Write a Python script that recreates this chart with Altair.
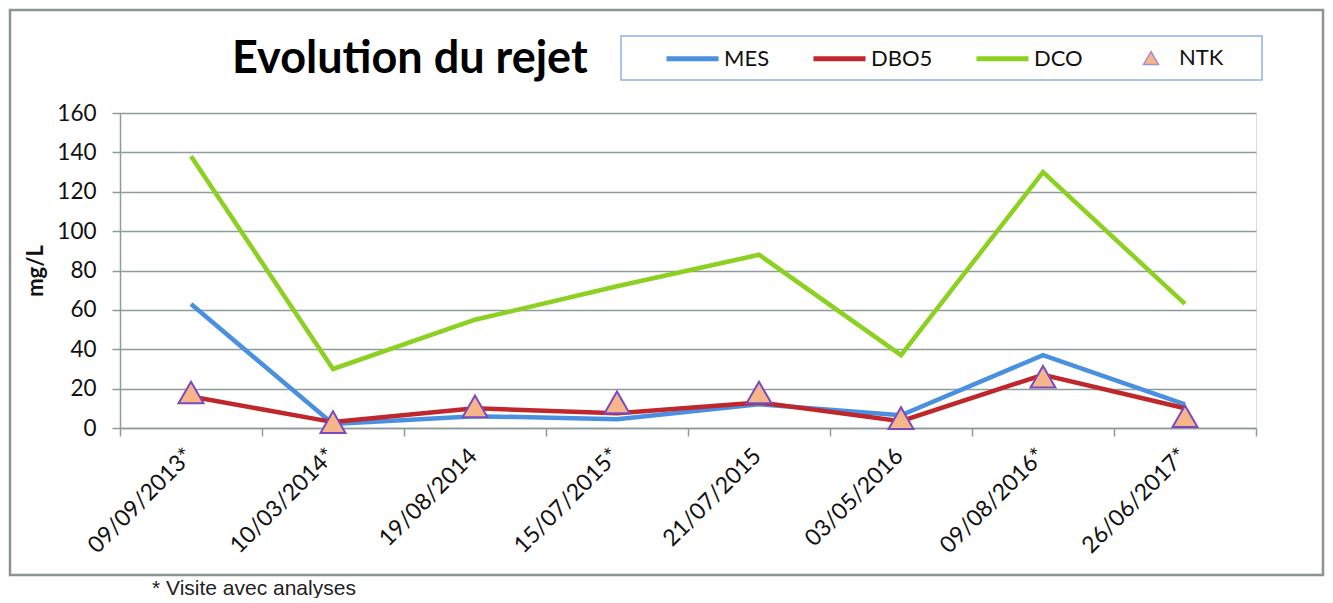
import altair as alt
import pandas as pd

dates = ["09/09/2013*", "10/03/2014*", "19/08/2014", "15/07/2015*",
         "21/07/2015", "03/05/2016", "09/08/2016*", "26/06/2017*"]
mes = [63, 2, 6, 4.5, 12, 6.5, 37, 12]
dbo5 = [16, 3, 10, 7.5, 13, 3.5, 27, 10]
dco = [138, 30, 55, 72, 88, 37, 130, 63]
ntk = [18, 3, 11, 13, 18, 5, 26, 6]
y_ticks = [0, 20, 40, 60, 80, 100, 120, 140, 160]

series_names = ["MES", "DBO5", "DCO"]
series_colors = ["#4a90e0", "#c0272d", "#8cd121"]

rows = []
for name, vals in zip(series_names, [mes, dbo5, dco]):
    for d, v in zip(dates, vals):
        rows.append({"date": d, "value": v, "series": name})
df_lines = pd.DataFrame(rows)
df_ntk = pd.DataFrame({"date": dates, "value": ntk, "series": ["NTK"] * len(dates)})
one = pd.DataFrame({"a": [0]})

FONT = "Lato"

x_enc = alt.X(
    "date:N", sort=dates, bandPosition=0.5,
    scale=alt.Scale(type="band", paddingInner=0, paddingOuter=0),
    axis=alt.Axis(title=None, tickBand="extent", grid=False, ticks=True, tickSize=8,
                  tickColor="#8f9b9b", tickWidth=1.5, domainColor="#8f9b9b", domainWidth=1.5,
                  labelAngle=-45, labelAlign="right", labelBaseline="middle",
                  labelFont=FONT, labelFontSize=23, labelColor="#111111",
                  labelPadding=16, labelOffset=-2, labelOverlap=False),
)
y_enc = alt.Y(
    "value:Q", scale=alt.Scale(domain=[0, 160], nice=False, zero=True),
    axis=alt.Axis(values=y_ticks, title="mg/L", titleFont=FONT, titleFontWeight="bold",
                  titleFontSize=22, titleColor="#111111", titlePadding=9,
                  grid=True, gridColor="#8f9b9b", gridWidth=1.5,
                  tickSize=8, tickColor="#8f9b9b", tickWidth=1.5,
                  domainColor="#8f9b9b", domainWidth=1.5,
                  labelFont=FONT, labelFontSize=22.5, labelColor="#111111", labelPadding=16),
)

border = alt.Chart(one).mark_rect(fill=None, stroke="#8a9494", strokeWidth=2.5).encode(
    x=alt.value(-110), x2=alt.value(1203), y=alt.value(-103), y2=alt.value(462))

legend_box = alt.Chart(one).mark_rect(fill="white", stroke="#8db3e2", strokeWidth=1.5).encode(
    x=alt.value(501), x2=alt.value(1142), y=alt.value(-77), y2=alt.value(-33))

lines = alt.Chart(df_lines).mark_line(strokeWidth=4.5).encode(
    x=x_enc, y=y_enc,
    color=alt.Color("series:N", sort=series_names,
                    scale=alt.Scale(domain=series_names, range=series_colors),
                    legend=alt.Legend(orient="none", legendX=544, legendY=-83, direction="horizontal",
                                      title=None, symbolType="stroke", symbolSize=2704,
                                      symbolStrokeWidth=5, labelFont=FONT, labelFontSize=22,
                                      labelColor="#111111", labelOffset=3, columnPadding=33,
                                      padding=0)),
    order=alt.Order("series:N"),
)

points = alt.Chart(df_ntk).mark_point(shape="triangle-up", filled=True, size=620,
                                      stroke="#7a4bbf", strokeWidth=2, opacity=1).encode(
    x=x_enc, y=y_enc,
    fill=alt.Fill("series:N", scale=alt.Scale(domain=["NTK"], range=["#f7b68a"]),
                  legend=alt.Legend(orient="none", legendX=1020, legendY=-66, title=None,
                                    symbolType="triangle-up", symbolSize=225,
                                    symbolStrokeColor="#a98ad6", symbolStrokeWidth=1.5,
                                    labelFont=FONT, labelFontSize=22, labelColor="#111111",
                                    labelOffset=17, padding=0)),
)

title = alt.Chart(one).mark_text(text="Evolution du rejet", font=FONT, fontWeight="bold",
                                 fontSize=45, align="left", baseline="alphabetic",
                                 color="#000000").encode(x=alt.value(112), y=alt.value(-40))

footnote = alt.Chart(one).mark_text(text="* Visite avec analyses", font="Liberation Sans",
                                    fontSize=21, align="left", baseline="alphabetic",
                                    color="#222222").encode(x=alt.value(32), y=alt.value(482))

chart = alt.layer(border, legend_box, lines, points, title, footnote).resolve_scale(
    color="independent", fill="independent"
).properties(
    width=1136, height=315,
    autosize=alt.AutoSizeParams(type="none"),
    padding={"left": 112, "top": 105, "right": 69, "bottom": 170},
).configure_view(stroke=None).configure(background="white")

chart.save("out.html", embed_options={"renderer": "svg", "actions": False})
